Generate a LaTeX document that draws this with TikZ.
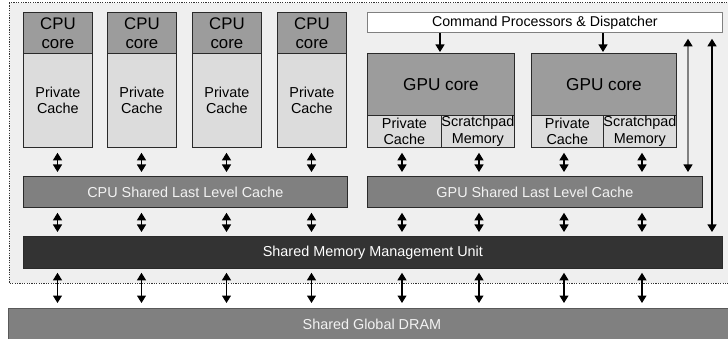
\documentclass[tikz,border=0pt]{standalone}
\usepackage{fontspec}
\setmainfont{Liberation Sans}
\usetikzlibrary{arrows.meta,calc}
\definecolor{bgc}{HTML}{EFEFEF}
\definecolor{hdr}{HTML}{9C9C9C}
\definecolor{cache}{HTML}{DCDCDC}
\definecolor{llc}{HTML}{808080}
\definecolor{mmu}{HTML}{333333}
\definecolor{bord}{HTML}{2A2A2A}
\definecolor{lighttext}{HTML}{F2F2F2}
\begin{document}
\begin{tikzpicture}[x=1pt,y=-1pt,
  box/.style={draw=bord, line width=0.8pt, inner sep=0pt, anchor=north west, align=center},
  bigtxt/.style={font=\fontsize{16.8}{19}\selectfont},
  midtxt/.style={font=\fontsize{14.4}{16.5}\selectfont},
  hdrbox/.style={box, fill=hdr, bigtxt},
  cachebox/.style={box, fill=cache, midtxt},
  llcbox/.style={box, fill=llc, midtxt, text=lighttext},
  tipA/.tip={Triangle[width=9pt,length=7.5pt]},
  tipB/.tip={Triangle[width=9pt,length=7.5pt,black]},
  dbl/.style={tipA-tipA, line width=1.1pt, black},
  gdbl/.style={tipB-tipB, line width=1.1pt, draw=llc},
  sgl/.style={-tipA, line width=1.1pt, black}]
\useasboundingbox (0,0) rectangle (728,339);
\clip (0,0) rectangle (728,339);
% chip background
\draw[fill=bgc, draw=black!80, line width=1pt, dash pattern=on 1.2pt off 1.2pt] (9,3) rectangle (735,283);
% CPU cores
\foreach \i/\x in {1/23,2/107,3/192,4/277}{
  \node[hdrbox, minimum width=69pt, minimum height=41pt] (ch\i) at (\x,12) {CPU\\core};
  \node[cachebox, minimum width=69pt, minimum height=94pt] (cc\i) at (\x,53) {Private\\Cache};
}
% command processor
\node[box, draw=llc, fill=white, minimum width=355pt, minimum height=20pt, font=\fontsize{14.2}{16}\selectfont] (cmd) at (367,12) {Command Processors \& Dispatcher};
% GPU cores
\node[hdrbox, font=\fontsize{17.2}{19}\selectfont, minimum width=147pt, minimum height=62pt] (g1) at (367,53) {GPU core};
\node[cachebox, minimum width=74pt, minimum height=32pt] (gp1) at (367,115) {Private\\Cache};
\node[cachebox, minimum width=73pt, minimum height=32pt] (gs1) at (441,115) {Scratchpad\\Memory};
\node[hdrbox, font=\fontsize{17.2}{19}\selectfont, minimum width=145pt, minimum height=62pt] (g2) at (531,53) {GPU core};
\node[cachebox, minimum width=72pt, minimum height=32pt] (gp2) at (531,115) {Private\\Cache};
\node[cachebox, minimum width=73pt, minimum height=32pt] (gs2) at (603,115) {Scratchpad\\Memory};
% shared last level caches
\node[llcbox, minimum width=324pt, minimum height=31pt] (cllc) at (23,176) {CPU Shared Last Level Cache};
\node[llcbox, minimum width=335pt, minimum height=31pt] (gllc) at (367,176) {GPU Shared Last Level Cache};
% MMU
\node[box, fill=mmu, text=white, midtxt, minimum width=699pt, minimum height=32pt] (mmu) at (23,236) {Shared Memory Management Unit};
% DRAM
\node[box, draw=black!65, fill=llc, text=lighttext, midtxt, minimum width=727pt, minimum height=32pt] (dram) at (8,308) {Shared Global DRAM};
% columns
\foreach \n/\x in {1/57.5,2/141.5,3/226.5,4/311.5,5/402,6/479,7/564,8/642}{
  \coordinate (col\n) at (\x,0);
}
% arrows: CPU private caches -> CPU LLC
\foreach \i in {1,2,3,4}{
  \draw[dbl, shorten <=5pt, shorten >=4pt] (col\i |- cc\i.south) -- (col\i |- cllc.north);
}
% GPU caches -> GPU LLC
\draw[dbl, shorten <=5pt, shorten >=4pt] (col5 |- gp1.south) -- (col5 |- gllc.north);
\draw[dbl, shorten <=5pt, shorten >=4pt] (col6 |- gs1.south) -- (col6 |- gllc.north);
\draw[dbl, shorten <=5pt, shorten >=4pt] (col7 |- gp2.south) -- (col7 |- gllc.north);
\draw[dbl, shorten <=5pt, shorten >=4pt] (col8 |- gs2.south) -- (col8 |- gllc.north);
% LLCs -> MMU
\foreach \i in {1,2,3,4}{
  \draw[dbl, shorten <=5pt, shorten >=4pt] (col\i |- cllc.south) -- (col\i |- mmu.north);
}
\foreach \i in {5,6,7,8}{
  \draw[dbl, shorten <=5pt, shorten >=4pt] (col\i |- gllc.south) -- (col\i |- mmu.north);
}
% MMU -> DRAM
\foreach \i in {1,...,8}{
  \draw[dbl, shorten <=4pt, shorten >=5pt] (col\i |- mmu.south) -- (col\i |- dram.north);
}
% command -> GPU cores
\coordinate (cx1) at (440,0);
\coordinate (cx2) at (603,0);
\draw[sgl, shorten >=1pt] (cx1 |- cmd.south) -- (cx1 |- g1.north);
\draw[sgl, shorten >=1pt] (cx2 |- cmd.south) -- (cx2 |- g2.north);
% long arrows
\coordinate (lx1) at (688,0);
\coordinate (lx2) at (712,0);
\draw[gdbl, shorten <=6pt, shorten >=4pt] (lx1 |- cmd.south) -- (lx1 |- gllc.north);
\draw[dbl, shorten <=6pt, shorten >=4pt] (lx2 |- cmd.south) -- (lx2 |- mmu.north);
\end{tikzpicture}
\end{document}
